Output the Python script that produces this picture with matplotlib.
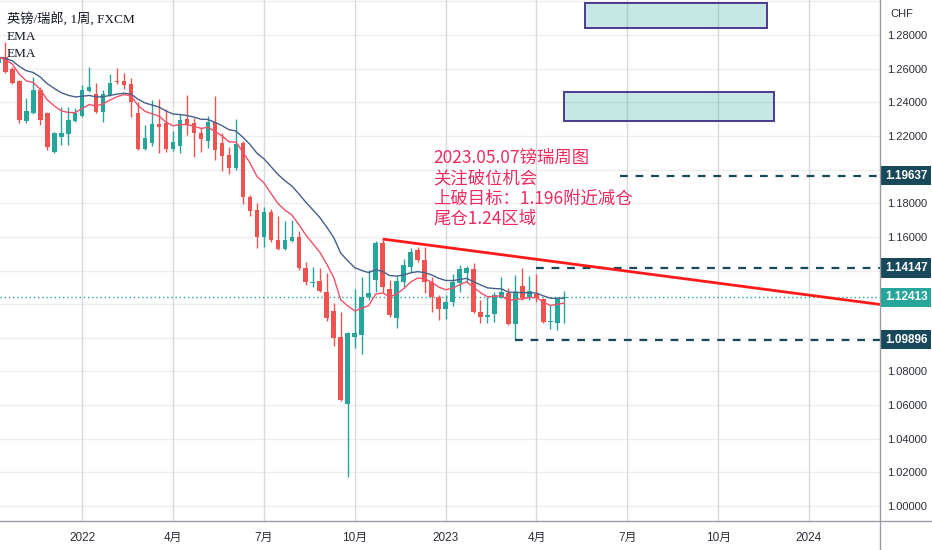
import numpy as np
import pandas as pd
import matplotlib
matplotlib.use("Agg")
import matplotlib.pyplot as plt
from matplotlib.lines import Line2D
from matplotlib.patches import Rectangle
from matplotlib.transforms import blended_transform_factory

plt.rcParams['font.family'] = ['Liberation Sans', 'Noto Sans CJK SC']

# weekly GBP/CHF candles, first bar = week of 2021-10-11
first_week = '2021-10-11'
opens = [1.2634, 1.2669, 1.2598, 1.2527, 1.2289, 1.2336, 1.2473, 1.2336, 1.2104, 1.2194,
         1.2211, 1.2289, 1.2318, 1.2467, 1.2449, 1.2342, 1.2443, 1.2527, 1.2527, 1.2509,
         1.2336, 1.2122, 1.2158, 1.2271, 1.2277, 1.2122, 1.2140, 1.2301, 1.2277, 1.2217,
         1.2170, 1.2283, 1.2158, 1.2087, 1.2009, 1.2158, 1.1837, 1.1760, 1.1599, 1.1748,
         1.1581, 1.1528, 1.1575, 1.1599, 1.1415, 1.1326, 1.1338, 1.1272, 1.1159, 1.1005,
         1.0606, 1.1005, 1.1017, 1.1242, 1.1343, 1.1563, 1.1290, 1.1118, 1.1332, 1.1421,
         1.1522, 1.1462, 1.1332, 1.1242, 1.1171, 1.1213, 1.1326, 1.1385, 1.1409, 1.1153,
         1.1124, 1.1141, 1.1237, 1.1266, 1.1082, 1.1308, 1.1242, 1.1260, 1.1231, 1.1094,
         1.1088, 1.1237]
highs = [1.2680, 1.2758, 1.2610, 1.2532, 1.2425, 1.2550, 1.2491, 1.2342, 1.2223, 1.2372,
         1.2372, 1.2366, 1.2503, 1.2610, 1.2515, 1.2473, 1.2568, 1.2604, 1.2574, 1.2544,
         1.2402, 1.2265, 1.2414, 1.2420, 1.2360, 1.2229, 1.2330, 1.2443, 1.2307, 1.2247,
         1.2318, 1.2437, 1.2217, 1.2134, 1.2301, 1.2170, 1.1849, 1.1801, 1.1777, 1.1766,
         1.1724, 1.1694, 1.1700, 1.1635, 1.1451, 1.1421, 1.1415, 1.1385, 1.1207, 1.1153,
         1.1034, 1.1290, 1.1361, 1.1403, 1.1575, 1.1581, 1.1343, 1.1367, 1.1468, 1.1534,
         1.1540, 1.1540, 1.1361, 1.1254, 1.1254, 1.1379, 1.1433, 1.1427, 1.1445, 1.1225,
         1.1242, 1.1272, 1.1361, 1.1296, 1.1373, 1.1415, 1.1367, 1.1380, 1.1237, 1.1195,
         1.1242, 1.1278]
lows = [1.2620, 1.2574, 1.2509, 1.2277, 1.2277, 1.2330, 1.2265, 1.2116, 1.2098, 1.2146,
        1.2146, 1.2283, 1.2312, 1.2461, 1.2336, 1.2283, 1.2437, 1.2509, 1.2479, 1.2313,
        1.2116, 1.2116, 1.2140, 1.2098, 1.2104, 1.2110, 1.2098, 1.2206, 1.2075, 1.2104,
        1.2128, 1.2057, 1.1991, 1.1974, 1.1997, 1.1795, 1.1724, 1.1534, 1.1540, 1.1569,
        1.1522, 1.1522, 1.1569, 1.1403, 1.1314, 1.1302, 1.1272, 1.1100, 1.0951, 1.0624,
        1.0172, 1.0939, 1.0904, 1.1225, 1.1272, 1.1266, 1.1124, 1.1058, 1.1302, 1.1391,
        1.1451, 1.1266, 1.1153, 1.1106, 1.1112, 1.1189, 1.1272, 1.1326, 1.1147, 1.1088,
        1.1088, 1.1094, 1.1237, 1.1076, 1.0990, 1.1225, 1.1225, 1.1213, 1.1088, 1.1052,
        1.1046, 1.1088]
closes = [1.2669, 1.2580, 1.2515, 1.2295, 1.2348, 1.2473, 1.2295, 1.2134, 1.2217, 1.2217,
          1.2295, 1.2336, 1.2473, 1.2491, 1.2342, 1.2449, 1.2515, 1.2521, 1.2503, 1.2402,
          1.2122, 1.2188, 1.2271, 1.2253, 1.2122, 1.2164, 1.2295, 1.2271, 1.2217, 1.2182,
          1.2283, 1.2116, 1.2081, 1.2009, 1.2152, 1.1837, 1.1754, 1.1599, 1.1748, 1.1581,
          1.1528, 1.1581, 1.1599, 1.1415, 1.1332, 1.1332, 1.1278, 1.1118, 1.0999, 1.0630,
          1.1028, 1.1028, 1.1242, 1.1266, 1.1563, 1.1302, 1.1135, 1.1338, 1.1433, 1.1510,
          1.1462, 1.1332, 1.1242, 1.1171, 1.1213, 1.1332, 1.1409, 1.1415, 1.1153, 1.1124,
          1.1135, 1.1254, 1.1272, 1.1082, 1.1272, 1.1237, 1.1278, 1.1237, 1.1094, 1.1100,
          1.1231, 1.12413]

last_price = 1.12413
levels = [1.19637, 1.14147, 1.09896]
level_starts = ['2023-06-26', '2023-04-03', '2023-03-13']

trend_dates = ['2022-10-31', '2023-05-01']
trend_prices = [1.1587, 1.1445]

box_dates = [('2023-05-22', '2023-11-20'), ('2023-05-01', '2023-11-27')]
box_prices = [(1.2842, 1.2990), (1.2289, 1.2461)]

tick_dates = ['2022-01-03', '2022-04-04', '2022-07-04', '2022-10-03', '2023-01-02',
              '2023-04-03', '2023-07-03', '2023-10-02', '2024-01-01']
tick_labels = ['2022', '4月', '7月', '10月', '2023', '4月', '7月', '10月', '2024']
# 1.20 / 1.14 / 1.12 / 1.10 sit under the price label boxes
price_ticks = [1.00, 1.02, 1.04, 1.06, 1.08, 1.16, 1.18, 1.22, 1.24, 1.26, 1.28]

note_lines = ['2023.05.07镑瑞周图', '关注破位机会', '上破目标：1.196附近减仓', '尾仓1.24区域']

UP = '#26a69a'
DOWN = '#ef5350'
NAVY = '#17495a'
base = pd.Timestamp('2022-01-03')


def week_pos(d):
    return (pd.Timestamp(d) - base).days / 7


weeks = pd.date_range(first_week, periods=len(closes), freq='W-MON')
xs = np.array([week_pos(d) for d in weeks])
o = np.array(opens)
h = np.array(highs)
l = np.array(lows)
c = np.array(closes)

fig = plt.figure(figsize=(9.32, 5.5), dpi=100)
ax = fig.add_axes([0, 29 / 550, 880 / 932, 521 / 550])
x_right = 114.17
ax.set_xlim(-11.76, x_right)
ax.set_ylim(0.9911, 1.3008)

for p in np.arange(1.00, 1.3001, 0.02):
    ax.axhline(p, color='#eceef2', lw=1, zorder=0)
tick_x = [week_pos(d) for d in tick_dates]
for t in tick_x:
    ax.axvline(t, color='#d8dae0', lw=1, zorder=0)

# candles
colors = np.where(c >= o, UP, DOWN)
ax.vlines(xs, l, h, colors=colors, lw=1, zorder=3)
body = np.maximum(np.abs(c - o), 0.0006)
ax.bar(xs, body, bottom=np.minimum(o, c), width=0.66, color=colors, zorder=4)

# EMAs
ema_fast = pd.Series(c).ewm(span=10, adjust=False).mean()
ema_slow = pd.Series(c).ewm(span=20, adjust=False).mean()
ax.plot(xs, ema_slow, color='#46608a', lw=1, zorder=5)
ax.plot(xs, ema_fast, color='#f25068', lw=1, zorder=5)

# last price dotted line
ax.axhline(last_price, color=UP, lw=1, ls=(0, (1, 2)), zorder=2)

# dashed levels
for lv, st in zip(levels, level_starts):
    ax.hlines(lv, week_pos(st), x_right, colors=NAVY, lw=1.6, ls=(0, (3.5, 3.5)), zorder=6)

# trend line extended to the right edge
tx = [week_pos(d) for d in trend_dates]
slope = (trend_prices[1] - trend_prices[0]) / (tx[1] - tx[0])
ax.plot([tx[0], x_right], [trend_prices[0], trend_prices[0] + slope * (x_right - tx[0])],
        color='#ff1a1a', lw=2, zorder=7, solid_capstyle='butt')

# target boxes
for (d0, d1), (p0, p1) in zip(box_dates, box_prices):
    x0, x1 = week_pos(d0), week_pos(d1)
    ax.add_patch(Rectangle((x0, p0), x1 - x0, p1 - p0, fc=(0.15, 0.65, 0.6, 0.26),
                           ec='#4b3a8f', lw=1.4, zorder=6))

# note text
note_x = 50.2
note_y = [1.2037, 1.1918, 1.1799, 1.1680]
for s, y in zip(note_lines, note_y):
    ax.text(note_x, y, s, color='#ef2a5f', fontsize=12.5, va='baseline', ha='left',
            family=['Noto Sans CJK SC'], zorder=8)

# axes styling
for sp in ax.spines.values():
    sp.set_visible(False)
ax.yaxis.tick_right()
ax.set_yticks(price_ticks)
ax.set_yticklabels([f'{p:.5f}' for p in price_ticks])
ax.tick_params(axis='y', length=0, pad=5, labelsize=8, labelcolor='#2a2e39')
ax.set_xticks(tick_x)
ax.set_xticklabels(tick_labels)
ax.tick_params(axis='x', length=0, pad=8, labelsize=8.5, labelcolor='#2a2e39')

fig.add_artist(Line2D([880 / 932, 880 / 932], [0, 1], color='#9a9ca5', lw=1))
fig.add_artist(Line2D([0, 1], [29 / 550, 29 / 550], color='#9a9ca5', lw=1))

# price labels on the axis
lab = blended_transform_factory(ax.transAxes, ax.transData)
for lv in levels:
    ax.text(885 / 880, lv, f'{lv:.5f}', transform=lab, ha='left', va='center', color='white',
            fontsize=8.5, fontweight='bold', clip_on=False, zorder=10,
            bbox=dict(boxstyle='square,pad=0.3', fc=NAVY, ec='none'))
ax.text(885 / 880, last_price, f'{last_price:.5f}', transform=lab, ha='left', va='center',
        color='white', fontsize=8.5, fontweight='bold', clip_on=False, zorder=10,
        bbox=dict(boxstyle='square,pad=0.3', fc=UP, ec='none'))

fig.text(890 / 932, 1 - 14 / 550, 'CHF', fontsize=8, va='center', color='#2a2e39')

serif = ['Liberation Serif', 'Noto Sans CJK SC']
fig.text(7 / 932, 1 - 20 / 550, '英镑/瑞郎, 1周, FXCM', fontsize=9.5, va='center',
         color='#131722', family=serif)
fig.text(7 / 932, 1 - 37 / 550, 'EMA', fontsize=9.5, va='center', color='#131722', family=serif)
fig.text(7 / 932, 1 - 54 / 550, 'EMA', fontsize=9.5, va='center', color='#131722', family=serif)

fig.savefig('out.png', dpi=100, facecolor='white')
